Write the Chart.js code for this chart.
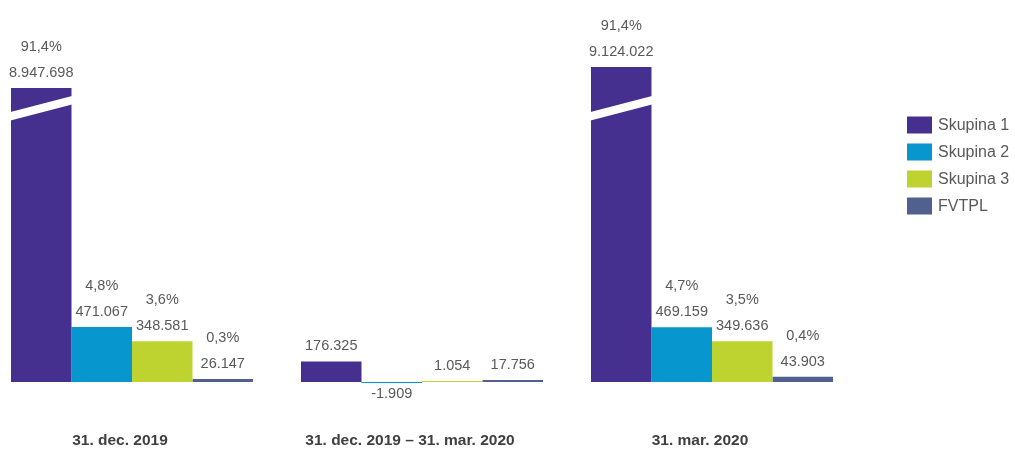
<!DOCTYPE html>
<html>
<head>
<meta charset="utf-8">
<script src="https://cdn.jsdelivr.net/npm/chart.js@4/dist/chart.umd.min.js"></script>
<style>
html,body{margin:0;padding:0;background:#fff;}
#wrap{width:1015px;height:450px;position:relative;}
</style>
</head>
<body>
<div id="wrap"><canvas id="c" width="1015" height="450"></canvas></div>
<script>
const categories = ['31. dec. 2019', '31. dec. 2019 – 31. mar. 2020', '31. mar. 2020'];
const seriesNames = ['Skupina 1', 'Skupina 2', 'Skupina 3', 'FVTPL'];
const skupina1 = [8947698, 176325, 9124022];
const skupina2 = [471067, -1909, 469159];
const skupina3 = [348581, 1054, 349636];
const fvtpl = [26147, 17756, 43903];
const skupina1Pct = [91.4, null, 91.4];
const skupina2Pct = [4.8, null, 4.7];
const skupina3Pct = [3.6, null, 3.5];
const fvtplPct = [0.3, null, 0.4];
// axis break: value at which the broken Skupina 1 bars are drawn
const skupina1Broken = [2518000, null, 2698000];

const colors = ['#46308f', '#0896cf', '#bed230', '#51618f'];
const values = [skupina1, skupina2, skupina3, fvtpl];
const pcts = [skupina1Pct, skupina2Pct, skupina3Pct, fvtplPct];
const FONT = '"Liberation Sans", Arial, sans-serif';
const TEXT = '#595959';

function fmtNum(v) {
  const s = Math.abs(v).toString().replace(/\B(?=(\d{3})+(?!\d))/g, '.');
  return (v < 0 ? '-' : '') + s;
}
function fmtPct(p) { return p.toFixed(1).replace('.', ',') + '%'; }

const datasets = values.map((arr, k) => ({
  label: seriesNames[k],
  data: k === 0 ? arr.map((v, i) => skupina1Broken[i] != null ? skupina1Broken[i] : v) : arr.slice(),
  backgroundColor: colors[k],
  borderWidth: 0,
  minBarLength: 1,
  clip: false,
  categoryPercentage: 0.8345,
  barPercentage: 1.0
}));

const breakPlugin = {
  id: 'breakPlugin',
  afterDatasetsDraw(chart) {
    const ctx = chart.ctx;
    const meta = chart.getDatasetMeta(0);
    meta.data.forEach((bar, i) => {
      if (skupina1Broken[i] == null) return;
      const p = bar.getProps(['x', 'width', 'base'], true);
      const l = p.x - p.width / 2, r = p.x + p.width / 2;
      ctx.save();
      ctx.fillStyle = '#ffffff';
      ctx.beginPath();
      ctx.moveTo(l - 0.5, p.base - 270);
      ctx.lineTo(r + 0.5, p.base - 286);
      ctx.lineTo(r + 0.5, p.base - 277.5);
      ctx.lineTo(l - 0.5, p.base - 261.5);
      ctx.closePath();
      ctx.fill();
      ctx.restore();
    });
  }
};

const labelPlugin = {
  id: 'labelPlugin',
  afterDatasetsDraw(chart) {
    const ctx = chart.ctx;
    ctx.save();
    ctx.font = '14.5px ' + FONT;
    ctx.fillStyle = TEXT;
    ctx.textAlign = 'center';
    ctx.textBaseline = 'middle';
    chart.data.datasets.forEach((ds, k) => {
      const meta = chart.getDatasetMeta(k);
      meta.data.forEach((bar, i) => {
        const p = bar.getProps(['x', 'y', 'base'], true);
        const v = values[k][i];
        if (v < 0) {
          ctx.fillText(fmtNum(v), p.x, p.base + 12);
          return;
        }
        const top = Math.min(p.y, p.base);
        const vy = top - 15;
        ctx.fillText(fmtNum(v), p.x, vy);
        if (pcts[k][i] != null) ctx.fillText(fmtPct(pcts[k][i]), p.x, vy - 26);
      });
    });
    ctx.restore();
  }
};

const legendPlugin = {
  id: 'customLegend',
  afterDraw(chart) {
    const ctx = chart.ctx;
    ctx.save();
    ctx.font = '16px ' + FONT;
    ctx.textBaseline = 'middle';
    ctx.textAlign = 'left';
    chart.data.datasets.forEach((ds, k) => {
      const cy = 125 + k * 27;
      ctx.fillStyle = ds.backgroundColor;
      ctx.fillRect(907, cy - 8.5, 25, 17);
      ctx.fillStyle = TEXT;
      ctx.fillText(ds.label, 938, cy + 0.5);
    });
    ctx.restore();
  }
};

new Chart(document.getElementById('c'), {
  type: 'bar',
  data: { labels: categories, datasets },
  options: {
    responsive: false,
    animation: false,
    layout: { padding: { left: 132, right: 303, top: 0, bottom: 0 } },
    plugins: { legend: { display: false }, tooltip: { enabled: false } },
    scales: {
      x: {
        offset: false,
        grid: { display: false, drawTicks: false },
        border: { display: false },
        afterFit(scale) { scale.height = 68; },
        ticks: {
          autoSkip: false, maxRotation: 0, padding: 49, labelOffset: -12,
          color: '#404040',
          font: { family: FONT, size: 15.5, weight: 'bold' }
        }
      },
      y: {
        display: false,
        min: 0,
        max: 3272000
      }
    }
  },
  plugins: [breakPlugin, labelPlugin, legendPlugin]
});
</script>
</body>
</html>
